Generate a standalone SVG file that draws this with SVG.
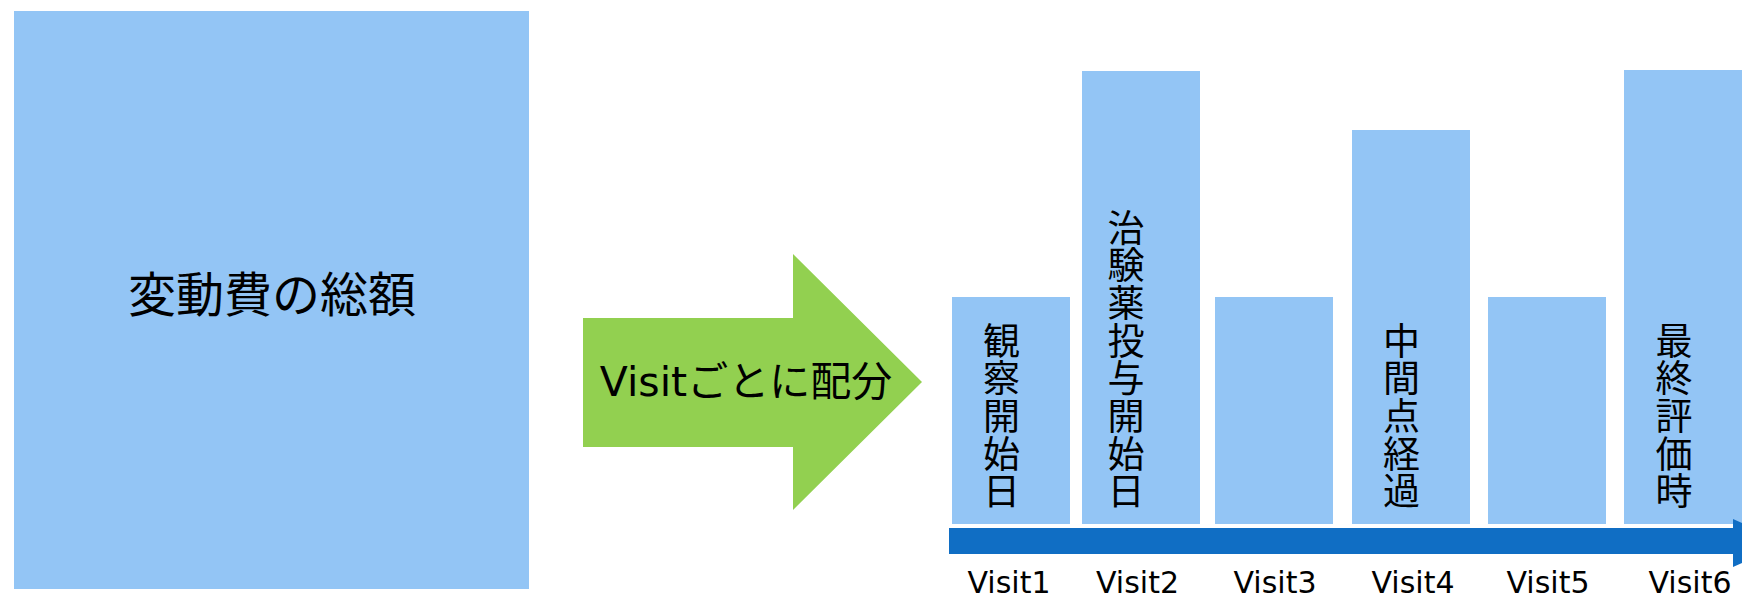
<svg xmlns="http://www.w3.org/2000/svg" width="1742" height="597" viewBox="0 0 1742 597">
  <style>
    .box { fill: #93C5F5; }
    .t { font-family: "DejaVu Sans", "Noto Sans CJK JP", sans-serif; fill: #000; }
    .jp { font-family: "Noto Sans CJK JP", sans-serif; fill: #000; }
    .vt { font-family: "Noto Sans CJK JP", sans-serif; font-size: 37px; fill: #000; writing-mode: vertical-rl; letter-spacing: 0.7px; }
    .lbl { font-size: 30px; text-anchor: middle; }
  </style>
  <rect width="1742" height="597" fill="#ffffff"/>

  <g id="total">
    <rect class="box" x="14" y="11" width="515" height="578"/>
    <text class="jp" x="272" y="312" font-size="48" text-anchor="middle">変動費の総額</text>
  </g>

  <g id="allocate">
    <polygon fill="#92D050" points="583,318 793,318 793,254 922,382 793,510 793,447 583,447"/>
    <text class="t" x="746" y="396" font-size="41" text-anchor="middle">Visitごとに配分</text>
  </g>

  <g id="visit1">
    <rect class="box" x="952" y="297" width="118" height="227"/>
    <text class="vt" x="1001.5" y="322">観察開始日</text>
  </g>

  <g id="visit2">
    <rect class="box" x="1082" y="71" width="118" height="453"/>
    <text class="vt" x="1126" y="209">治験薬投与開始日</text>
  </g>

  <g id="visit3">
    <rect class="box" x="1215" y="297" width="118" height="227"/>
  </g>

  <g id="visit4">
    <rect class="box" x="1352" y="130" width="118" height="394"/>
    <text class="vt" x="1401.5" y="322">中間点経過</text>
  </g>

  <g id="visit5">
    <rect class="box" x="1488" y="297" width="118" height="227"/>
  </g>

  <g id="visit6">
    <rect class="box" x="1624" y="70" width="118" height="454"/>
    <text class="vt" x="1674" y="322">最終評価時</text>
  </g>

  <g id="connectors">
    <polygon fill="#106EC4" points="949,528 1733,528 1733,519 1787,543 1733,567 1733,554 949,554"/>
  </g>

  <g id="labels">
    <text class="t lbl" x="1009" y="593">Visit1</text>
    <text class="t lbl" x="1137.5" y="593">Visit2</text>
    <text class="t lbl" x="1275" y="593">Visit3</text>
    <text class="t lbl" x="1413" y="593">Visit4</text>
    <text class="t lbl" x="1548" y="593">Visit5</text>
    <text class="t lbl" x="1690" y="593">Visit6</text>
  </g>
</svg>
